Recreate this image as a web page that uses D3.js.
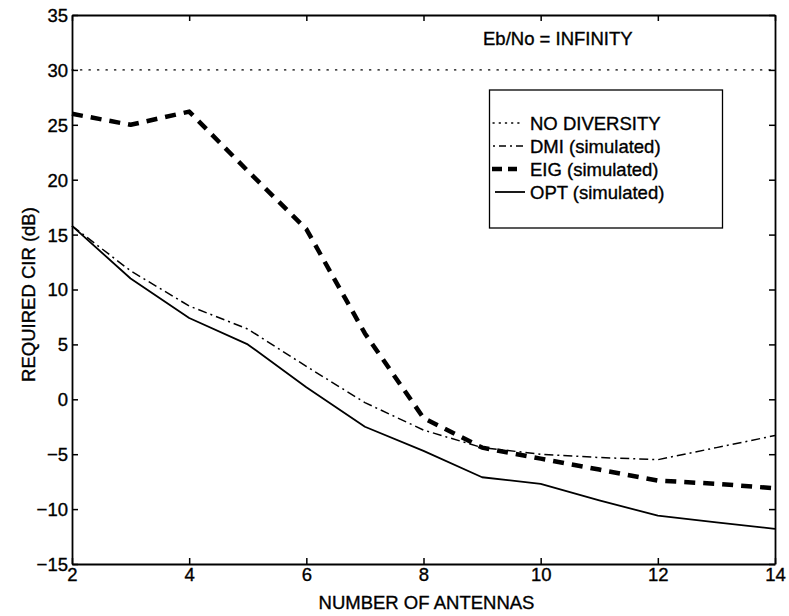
<!DOCTYPE html>
<html>
<head>
<meta charset="utf-8">
<script src="https://cdn.jsdelivr.net/npm/d3@7"></script>
<style>
  html, body { margin: 0; padding: 0; background: #fff; }
  svg { display: block; font-family: "Liberation Sans", Arial, Helvetica, sans-serif; }
  svg text { stroke: #000; stroke-width: 0.35px; fill: #000; }
</style>
</head>
<body>
<svg id="chart" width="789" height="616"></svg>
<script>
// ---- data ----
const antennas = [2, 3, 4, 5, 6, 7, 8, 9, 10, 11, 12, 13, 14];
const noDiversity = [30, 30, 30, 30, 30, 30, 30, 30, 30, 30, 30, 30, 30];
const dmi = [15.8, 11.7, 8.5, 6.4, 3.0, -0.3, -2.8, -4.4, -5.0, -5.3, -5.5, -4.4, -3.3];
const eig = [26.0, 25.0, 26.2, 20.8, 15.5, 6.0, -1.7, -4.4, -5.4, -6.4, -7.4, -7.7, -8.1];
const opt = [15.8, 11.0, 7.4, 5.0, 1.1, -2.5, -4.7, -7.1, -7.7, -9.2, -10.6, -11.2, -11.8];
const xTicks = [2, 4, 6, 8, 10, 12, 14];
const yTicks = [-15, -10, -5, 0, 5, 10, 15, 20, 25, 30, 35];
const seriesNames = ["NO DIVERSITY", "DMI (simulated)", "EIG (simulated)", "OPT (simulated)"];
const annotation = "Eb/No = INFINITY";
const xTitle = "NUMBER OF ANTENNAS";
const yTitle = "REQUIRED CIR (dB)";

// ---- layout ----
const L = 72, R = 775, T = 15, B = 564;
const svg = d3.select("#chart");
const x = d3.scaleLinear().domain([2, 14]).range([L, R]);
const y = d3.scaleLinear().domain([-15, 35]).range([B, T]);
const FS = 18.5;

const styles = [
  { data: noDiversity, width: 1.3, dash: "1.3,7.2", cap: "round" },
  { data: dmi, width: 1.5, dash: "9,4,2,4", cap: "butt" },
  { data: eig, width: 4.5, dash: "11,8", cap: "butt" },
  { data: opt, width: 1.8, dash: null, cap: "butt" }
];

const line = d3.line().x((d, i) => x(antennas[i])).y(d => y(d));

styles.forEach(s => {
  svg.append("path")
    .attr("d", line(s.data))
    .attr("fill", "none")
    .attr("stroke", "#000")
    .attr("stroke-width", s.width)
    .attr("stroke-linecap", s.cap)
    .attr("stroke-linejoin", "round")
    .attr("stroke-dasharray", s.dash);
});

// axes (ticks inward, mirrored)
const tickLen = 6;
const axB = svg.append("g").attr("transform", `translate(0,${B})`)
  .call(d3.axisBottom(x).tickValues(xTicks).tickSizeInner(-tickLen).tickSizeOuter(0).tickPadding(8).tickFormat(d3.format("d")));
const axT = svg.append("g").attr("transform", `translate(0,${T})`)
  .call(d3.axisTop(x).tickValues(xTicks).tickSizeInner(-tickLen).tickSizeOuter(0).tickFormat(""));
const axL = svg.append("g").attr("transform", `translate(${L},0)`)
  .call(d3.axisLeft(y).tickValues(yTicks).tickSizeInner(-tickLen).tickSizeOuter(0).tickPadding(4).tickFormat(d => d < 0 ? "\u2212" + Math.abs(d) : d));
const axR = svg.append("g").attr("transform", `translate(${R},0)`)
  .call(d3.axisRight(y).tickValues(yTicks).tickSizeInner(-tickLen).tickSizeOuter(0).tickFormat(""));

[axB, axT, axL, axR].forEach(g => {
  g.select(".domain").attr("stroke", "#000").attr("stroke-width", 1.8);
  g.selectAll(".tick line").attr("stroke", "#000").attr("stroke-width", 1.5);
  g.selectAll("text").attr("fill", "#000").style("font-size", FS + "px")
    .style("font-family", "'Liberation Sans', Arial, sans-serif");
});
axB.selectAll("text").attr("dy", "0.71em").attr("y", 4);
axL.selectAll("text").attr("x", -4).attr("dy", "0.35em");

// titles
svg.append("text").attr("x", (L + R) / 2 + 3).attr("y", 609)
  .attr("text-anchor", "middle").style("font-size", FS + "px").text(xTitle);
svg.append("text").attr("transform", `translate(35,${(T + B) / 2 + 5}) rotate(-90)`)
  .attr("text-anchor", "middle").style("font-size", FS + "px").text(yTitle);

// annotation
svg.append("text").attr("x", 483).attr("y", 45).style("font-size", FS + "px").text(annotation);

// legend
const lg = svg.append("g");
lg.append("rect").attr("x", 489.5).attr("y", 90).attr("width", 233).attr("height", 138)
  .attr("fill", "#fff").attr("stroke", "#000").attr("stroke-width", 1.3);
const rowY = [123, 146, 169, 192];
const sampleX = [[493, 524], [493, 525], [492, 517], [495, 525]];
seriesNames.forEach((name, i) => {
  const s = styles[i];
  lg.append("line").attr("x1", sampleX[i][0]).attr("x2", sampleX[i][1])
    .attr("y1", rowY[i]).attr("y2", rowY[i])
    .attr("stroke", "#000").attr("stroke-width", s.width)
    .attr("stroke-linecap", s.cap)
    .attr("stroke-dasharray", i === 0 ? "1.2,5" : (i === 1 ? "2,4,7,4" : (i === 2 ? "10,6" : null)));
  lg.append("text").attr("x", 530).attr("y", rowY[i]).attr("dy", "0.36em")
    .style("font-size", FS + "px").text(name);
});
</script>
</body>
</html>
